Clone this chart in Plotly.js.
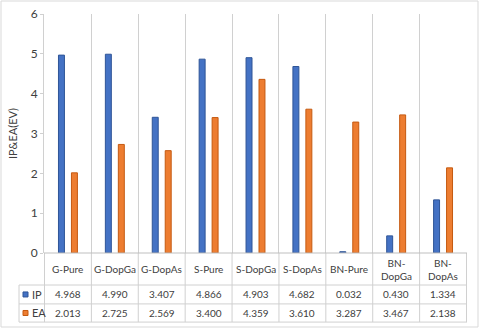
<!DOCTYPE html>
<html>
<head>
<meta charset="utf-8">
<script src="https://cdn.plot.ly/plotly-3.0.1.min.js"></script>
<style>
  body { margin: 0; background: #fff; }
  #plot { width: 480px; height: 329px; }
</style>
</head>
<body>
<div id="plot"></div>
<script>
// data
var cats = ["G-Pure", "G-DopGa", "G-DopAs", "S-Pure", "S-DopGa", "S-DopAs", "BN-Pure", "BN-DopGa", "BN-DopAs"];
var catLabels = ["G-Pure", "G-DopGa", "G-DopAs", "S-Pure", "S-DopGa", "S-DopAs", "BN-Pure", "BN-<br>DopGa", "BN-<br>DopAs"];
var ipValues = [4.968, 4.990, 3.407, 4.866, 4.903, 4.682, 0.032, 0.430, 1.334];
var eaValues = [2.013, 2.725, 2.569, 3.400, 4.359, 3.610, 3.287, 3.467, 2.138];

var blue = "#4472C4";
var orange = "#ED7D31";
var gridColor = "#d0d0d0";
var textColor = "#404040";
var font = "Lato, 'Open Sans', sans-serif";

var trace1 = {
    x: cats,
    y: ipValues,
    type: "bar",
    name: "IP",
    marker: { color: blue, line: { color: "#2F5597", width: 1 } },
    hoverinfo: "none"
};

var trace2 = {
    x: cats,
    y: eaValues,
    type: "bar",
    name: "EA",
    marker: { color: orange, line: { color: "#C55A11", width: 1 } },
    hoverinfo: "none"
};

// table geometry in paper units (plot area is 423 x 239 px)
var rowTop = 0, rowCat = -0.134, rowIP = -0.213, rowEA = -0.289;
var keyLeft = -25 / 423;

var shapes = [];
var annotations = [];

// vertical lines of the data table, one per category boundary
for (var i = 0; i <= cats.length; i++) {
    shapes.push({
        type: "line", xref: "x", yref: "paper",
        x0: i - 0.5, x1: i - 0.5, y0: rowEA, y1: rowTop,
        line: { color: gridColor, width: 1 }
    });
}
// horizontal rows
[rowTop, rowCat, rowIP, rowEA].forEach(function (y, k) {
    shapes.push({
        type: "line", xref: "paper", yref: "paper",
        x0: k === 0 ? 0 : keyLeft, x1: 1, y0: y, y1: y,
        line: { color: k === 0 ? "#bfbfbf" : gridColor, width: 1 }
    });
});
shapes.push({
    type: "line", xref: "paper", yref: "paper",
    x0: keyLeft, x1: keyLeft, y0: rowEA, y1: rowCat,
    line: { color: gridColor, width: 1 }
});
// outer chart border
shapes.push({
    type: "rect", xref: "paper", yref: "paper",
    x0: -43 / 423, x1: 434 / 423, y0: -74 / 239, y1: 252 / 239,
    line: { color: "#d9d9d9", width: 1 }
});

// legend keys inside the table
[[rowCat, rowIP, blue, "#2F5597", "IP"], [rowIP, rowEA, orange, "#C55A11", "EA"]].forEach(function (r) {
    var mid = (r[0] + r[1]) / 2;
    shapes.push({
        type: "rect", xref: "paper", yref: "paper",
        x0: -21 / 423, x1: -16 / 423, y0: mid - 2.5 / 239, y1: mid + 2.5 / 239,
        fillcolor: r[2], line: { color: r[3], width: 1 }
    });
    annotations.push({
        xref: "paper", yref: "paper", x: -14 / 423, y: mid,
        xanchor: "left", yanchor: "middle", showarrow: false,
        text: r[4], font: { family: font, size: 11, color: textColor }
    });
});

// table cells
function cell(x, y, text) {
    annotations.push({
        xref: "x", yref: "paper", x: x, y: y,
        xanchor: "center", yanchor: "middle", showarrow: false, text: text,
        font: { family: font, size: 10, color: textColor }
    });
}
cats.forEach(function (c, i) {
    cell(c, (rowTop + rowCat) / 2, catLabels[i]);
    cell(c, (rowCat + rowIP) / 2, ipValues[i].toFixed(3));
    cell(c, (rowIP + rowEA) / 2, eaValues[i].toFixed(3));
});

var layout = {
    width: 480,
    height: 329,
    margin: { l: 44, r: 13, t: 14, b: 76 },
    paper_bgcolor: "#fff",
    plot_bgcolor: "#fff",
    showlegend: false,
    barmode: "group",
    bargap: 0.447,
    bargroupgap: 0.54,
    font: { family: font, color: textColor },
    xaxis: {
        type: "category",
        showticklabels: false,
        showgrid: true,
        gridcolor: gridColor,
        tickson: "boundaries",
        ticks: "",
        showline: false,
        zeroline: false
    },
    yaxis: {
        range: [0, 6],
        dtick: 1,
        showgrid: false,
        zeroline: false,
        showline: true,
        linecolor: gridColor,
        ticks: "outside",
        ticklen: 3,
        tickcolor: gridColor,
        tickfont: { family: font, size: 12, color: textColor },
        title: { text: "IP&EA(EV)", font: { family: font, size: 11, color: textColor }, standoff: 10 }
    },
    shapes: shapes,
    annotations: annotations
};

Plotly.newPlot("plot", [trace1, trace2], layout, { displayModeBar: false, staticPlot: true });
</script>
</body>
</html>
